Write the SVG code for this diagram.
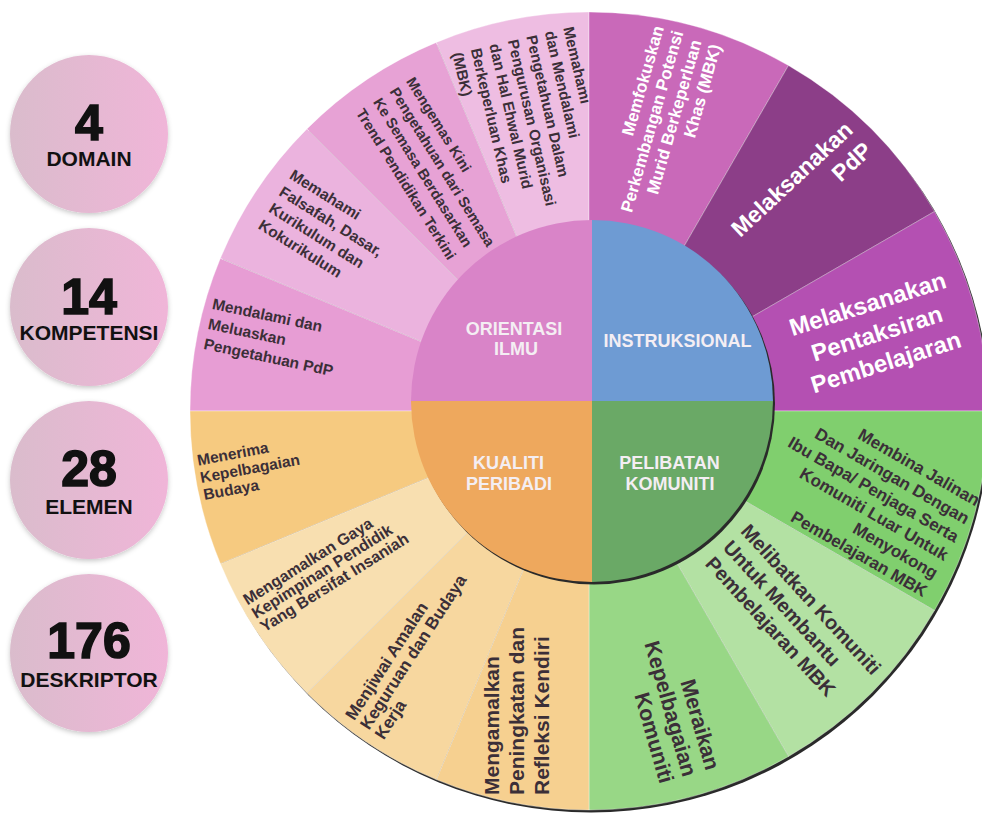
<svg xmlns="http://www.w3.org/2000/svg" width="982" height="815" viewBox="0 0 982 815">
<defs>
<linearGradient id="pillGrad" x1="0" y1="0" x2="1" y2="0">
<stop offset="0" stop-color="#dabccc"/>
<stop offset="1" stop-color="#f0b5d8"/>
</linearGradient>
<filter id="soft" x="-20%" y="-20%" width="140%" height="150%">
<feDropShadow dx="0" dy="2" stdDeviation="2.5" flood-color="#000" flood-opacity="0.22"/>
</filter>
<style>
.seg{stroke:#ffffff;stroke-opacity:0.35;stroke-width:1}
.lbl{font-family:"Liberation Sans",Arial,sans-serif;font-weight:bold;fill:#3b2f38}
.wlbl{font-family:"Liberation Sans",Arial,sans-serif;font-weight:bold;fill:#ffffff}
.core{font-family:"Liberation Sans",Arial,sans-serif;font-weight:bold;fill:#f4eef3;font-size:18px;text-anchor:middle}
.num{font-family:"Liberation Sans",Arial,sans-serif;font-weight:bold;fill:#111;font-size:50px;text-anchor:middle;stroke:#111;stroke-width:1.6}
.cap{font-family:"Liberation Sans",Arial,sans-serif;font-weight:bold;fill:#111;font-size:21px;text-anchor:middle}
</style>
</defs>
<rect width="982" height="815" fill="#ffffff"/>

<g id="stat-domain" filter="url(#soft)"><circle cx="89" cy="134" r="79" fill="url(#pillGrad)"/></g>
<g id="stat-domain-text"><text class="num" x="89" y="140">4</text><text class="cap" x="89" y="166">DOMAIN</text></g>
<g id="stat-kompetensi" filter="url(#soft)"><circle cx="89" cy="307" r="79" fill="url(#pillGrad)"/></g>
<g id="stat-kompetensi-text"><text class="num" x="89" y="314">14</text><text class="cap" x="89" y="340">KOMPETENSI</text></g>
<g id="stat-elemen" filter="url(#soft)"><circle cx="89" cy="480" r="79" fill="url(#pillGrad)"/></g>
<g id="stat-elemen-text"><text class="num" x="89" y="486">28</text><text class="cap" x="89" y="514">ELEMEN</text></g>
<g id="stat-deskriptor" filter="url(#soft)"><circle cx="89" cy="653" r="79" fill="url(#pillGrad)"/></g>
<g id="stat-deskriptor-text"><text class="num" x="89" y="658">176</text><text class="cap" x="89" y="687">DESKRIPTOR</text></g>

<circle cx="591" cy="413.5" r="399" fill="#2a2a2a"/>

<g id="tl1"><path class="seg" fill="#e79dd4" d="M589,411 L190,411 A399,399 0 0 1 220.4,258.3 Z"/>
<text class="lbl" font-size="15.5" transform="rotate(12)"><tspan x="271" y="258">Mendalami dan</tspan><tspan x="271" y="278.5">Meluaskan</tspan><tspan x="271" y="299">Pengetahuan PdP</tspan></text></g>
<g id="tl2"><path class="seg" fill="#ebb3de" d="M589,411 L220.4,258.3 A399,399 0 0 1 306.9,128.9 Z"/>
<text class="lbl" font-size="15.5" transform="rotate(32)"><tspan x="339" y="-2">Memahami</tspan><tspan x="339" y="17.7">Falsafah, Dasar,</tspan><tspan x="339" y="37.4">Kurikulum dan</tspan><tspan x="339" y="57.1">Kokurikulum</tspan></text></g>
<g id="tl3"><path class="seg" fill="#e7a2d5" d="M589,411 L306.9,128.9 A399,399 0 0 1 436.3,42.4 Z"/>
<text class="lbl" font-size="14.8" transform="rotate(58)"><tspan x="284" y="-301">Mengemas Kini</tspan><tspan x="284" y="-281.6">Pengetahuan dari Semasa</tspan><tspan x="284" y="-262.1">Ke Semasa Berdasarkan</tspan><tspan x="284" y="-241.6">Trend Pendidikan Terkini</tspan></text></g>
<g id="tl4"><path class="seg" fill="#eebde2" d="M589,411 L436.3,42.4 A399,399 0 0 1 589,12 Z"/>
<text class="lbl" font-size="15.2" transform="rotate(77)"><tspan x="154" y="-542.5">Memahami</tspan><tspan x="154" y="-523.5">dan Mendalami</tspan><tspan x="154" y="-504.5">Pengetahuan Dalam</tspan><tspan x="154" y="-485.5">Pengurusan Organisasi</tspan><tspan x="154" y="-466.5">dan Hal Ehwal Murid</tspan><tspan x="154" y="-447.5">Berkeperluan Khas</tspan><tspan x="154" y="-428.5">(MBK)</tspan></text></g>

<g id="tr1"><path class="seg" fill="#c969b9" d="M589,411 L589,12 A399,399 0 0 1 788.5,65.5 Z"/>
<text class="wlbl" font-size="17" transform="rotate(-74)"><tspan x="43" y="646">Memfokuskan</tspan><tspan x="-31" y="666">Perkembangan Potensi</tspan><tspan x="-6.5" y="686">Murid Berkeperluan</tspan><tspan x="58" y="706">Khas (MBK)</tspan></text></g>
<g id="tr2"><path class="seg" fill="#8c3e88" d="M589,411 L788.5,65.5 A399,399 0 0 1 934.5,211.5 Z"/>
<text class="wlbl" font-size="23" text-anchor="end" transform="rotate(-43)"><tspan x="535" y="679">Melaksanakan</tspan><tspan x="535" y="707">PdP</tspan></text></g>
<g id="tr3"><path class="seg" fill="#b450b2" d="M589,411 L934.5,211.5 A399,399 0 0 1 988,411 Z"/>
<text class="wlbl" font-size="24" text-anchor="middle" transform="rotate(-17.5)"><tspan x="736" y="559">Melaksanakan</tspan><tspan x="736" y="590">Pentaksiran</tspan><tspan x="736" y="620">Pembelajaran</tspan></text></g>

<g id="br1"><path class="seg" fill="#80cf6e" d="M589,411 L988,411 A399,399 0 0 1 934.5,610.5 Z"/>
<text class="lbl" font-size="17" text-anchor="end" transform="rotate(30)" fill="#333333"><tspan x="1098" y="-49">Membina Jalinan</tspan><tspan x="1098" y="-28">Dan Jaringan Dengan</tspan><tspan x="1098" y="-7">Ibu Bapa/ Penjaga Serta</tspan><tspan x="1098" y="14">Komuniti Luar Untuk</tspan><tspan x="1098" y="35">Menyokong</tspan><tspan x="1098" y="56">Pembelajaran MBK</tspan></text></g>
<g id="br2"><path class="seg" fill="#b3e1a3" d="M589,411 L934.5,610.5 A399,399 0 0 1 788.5,756.5 Z"/>
<text class="lbl" font-size="20" transform="rotate(47.5)"><tspan x="892" y="-186">Melibatkan Komuniti</tspan><tspan x="892" y="-162">Untuk Membantu</tspan><tspan x="892" y="-138">Pembelajaran MBK</tspan></text></g>
<g id="br3"><path class="seg" fill="#98d786" d="M589,411 L788.5,756.5 A399,399 0 0 1 589,810 Z"/>
<text class="lbl" font-size="21.5" text-anchor="end" transform="rotate(74)"><tspan x="936" y="-466">Meraikan</tspan><tspan x="936" y="-442">Kepelbagaian</tspan><tspan x="936" y="-418">Komuniti</tspan></text></g>

<g id="bl4"><path class="seg" fill="#f6d090" d="M589,411 L589,810 A399,399 0 0 1 436.3,779.6 Z"/>
<text class="lbl" font-size="21" transform="rotate(-90)"><tspan x="-795" y="498.7">Mengamalkan</tspan><tspan x="-795" y="523.7">Peningkatan dan</tspan><tspan x="-795" y="548.7">Refleksi Kendiri</tspan></text></g>
<g id="bl3"><path class="seg" fill="#f7d79f" d="M589,411 L436.3,779.6 A399,399 0 0 1 306.9,693.1 Z"/>
<text class="lbl" font-size="17" transform="rotate(-57)"><tspan x="-412" y="690">Menjiwai Amalan</tspan><tspan x="-412" y="707.5">Keguruan dan Budaya</tspan><tspan x="-412" y="725">Kerja</tspan></text></g>
<g id="bl2"><path class="seg" fill="#f8dfb0" d="M589,411 L306.9,693.1 A399,399 0 0 1 220.4,563.7 Z"/>
<text class="lbl" font-size="16" transform="rotate(-32)"><tspan x="-111" y="644.6">Mengamalkan Gaya</tspan><tspan x="-111" y="660.6">Kepimpinan Pendidik</tspan><tspan x="-111" y="676.6">Yang Bersifat Insaniah</tspan></text></g>
<g id="bl1"><path class="seg" fill="#f6ca80" d="M589,411 L220.4,563.7 A399,399 0 0 1 190,411 Z"/>
<text class="lbl" font-size="15.5" transform="rotate(-10.5)"><tspan x="110" y="494">Menerima</tspan><tspan x="110" y="511.5">Kepelbagaian</tspan><tspan x="110" y="529">Budaya</tspan></text></g>

<circle cx="594" cy="403.5" r="181" fill="#2a2a2a"/>
<g id="orientasi-ilmu"><path fill="#d984c8" d="M592,401 L411,401 A181,181 0 0 1 592,220 Z"/>
<text class="core"><tspan x="514" y="335">ORIENTASI</tspan><tspan x="516" y="355">ILMU</tspan></text></g>
<g id="instruksional"><path fill="#6e9bd3" d="M592,401 L592,220 A181,181 0 0 1 773,401 Z"/>
<text class="core" x="677.5" y="346.5">INSTRUKSIONAL</text></g>
<g id="pelibatan-komuniti"><path fill="#6aa966" d="M592,401 L773,401 A181,181 0 0 1 592,582 Z"/>
<text class="core"><tspan x="669.5" y="469">PELIBATAN</tspan><tspan x="670" y="490">KOMUNITI</tspan></text></g>
<g id="kualiti-peribadi"><path fill="#eea85d" d="M592,401 L592,582 A181,181 0 0 1 411,401 Z"/>
<text class="core"><tspan x="508.5" y="469">KUALITI</tspan><tspan x="509" y="490">PERIBADI</tspan></text></g>
<g id="connectors"/>
</svg>
